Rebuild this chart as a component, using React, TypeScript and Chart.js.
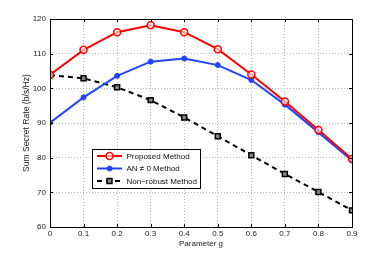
import React, { useEffect, useRef } from "react";
import { Chart, registerables } from "chart.js";

Chart.register(...registerables);

const gValues = [0, 0.1, 0.2, 0.3, 0.4, 0.5, 0.6, 0.7, 0.8, 0.9];
const proposed = [103.9, 111.1, 116.2, 118.2, 116.2, 111.3, 104.0, 96.2, 88.0, 79.6];
const anNonZero = [90.1, 97.4, 103.6, 107.7, 108.6, 106.7, 102.4, 95.3, 87.3, 79.2];
const nonRobust = [103.8, 102.9, 100.3, 96.6, 91.6, 86.2, 80.7, 75.3, 70.1, 64.8];
const seriesLabels = ["Proposed Method", "AN \u2260 0 Method", "Non\u2212robust Method"];
const xTitle = "Parameter g";
const yTitle = "Sum Secret Rate (b/s/Hz)";

const FONT = "'Liberation Sans', Arial, Helvetica, sans-serif";

const framePlugin = {
  id: "frameAndLegend",
  afterDatasetsDraw(chart: any) {
    const { ctx, chartArea: a, scales } = chart;
    ctx.save();
    ctx.strokeStyle = "#000";
    ctx.lineWidth = 1;
    ctx.setLineDash([]);
    ctx.strokeRect(Math.round(a.left) + 0.5, Math.round(a.top) + 0.5, Math.round(a.right - a.left), Math.round(a.bottom - a.top));
    const tl = 3;
    ctx.beginPath();
    scales.x.ticks.forEach((t: any) => {
      const px = Math.round(scales.x.getPixelForValue(t.value)) + 0.5;
      ctx.moveTo(px, a.bottom);
      ctx.lineTo(px, a.bottom - tl);
      ctx.moveTo(px, a.top);
      ctx.lineTo(px, a.top + tl);
    });
    scales.y.ticks.forEach((t: any) => {
      const py = Math.round(scales.y.getPixelForValue(t.value)) + 0.5;
      ctx.moveTo(a.left, py);
      ctx.lineTo(a.left + tl, py);
      ctx.moveTo(a.right, py);
      ctx.lineTo(a.right - tl, py);
    });
    ctx.stroke();
    ctx.restore();
  },
  afterDraw(chart: any) {
    const { ctx, chartArea: a } = chart;
    const bx = a.left + 42.5;
    const by = a.top + 130.5;
    const bw = 108;
    const bh = 39;
    ctx.save();
    ctx.fillStyle = "#fff";
    ctx.fillRect(bx, by, bw, bh);
    ctx.strokeStyle = "#000";
    ctx.lineWidth = 1;
    ctx.strokeRect(bx, by, bw, bh);
    chart.data.datasets.forEach((ds: any, i: number) => {
      const cy = by + 6.5 + i * 12.5;
      const x1 = bx + 4.5;
      const x2 = bx + 29.5;
      ctx.save();
      ctx.strokeStyle = ds.borderColor;
      ctx.lineWidth = ds.borderWidth;
      ctx.setLineDash(ds.borderDash || []);
      ctx.beginPath();
      ctx.moveTo(x1, cy);
      ctx.lineTo(x2, cy);
      ctx.stroke();
      ctx.setLineDash([]);
      const mx = (x1 + x2) / 2;
      const r = ds.pointRadius;
      ctx.lineWidth = ds.pointBorderWidth;
      ctx.strokeStyle = ds.pointBorderColor;
      ctx.fillStyle = ds.pointBackgroundColor;
      ctx.beginPath();
      if (ds.pointStyle === "rect") {
        ctx.rect(mx - r * 0.707, cy - r * 0.707, r * 1.414, r * 1.414);
      } else {
        ctx.arc(mx, cy, r, 0, Math.PI * 2);
      }
      ctx.fill();
      ctx.stroke();
      ctx.restore();
      ctx.fillStyle = "#111";
      ctx.font = `8px ${FONT}`;
      ctx.textBaseline = "middle";
      ctx.textAlign = "left";
      ctx.fillText(ds.label, bx + 34, cy + 0.5);
    });
    ctx.restore();
  },
};

export default function App() {
  const ref = useRef<HTMLCanvasElement>(null);
  useEffect(() => {
    document.body.style.margin = "0";
    const toPts = (arr: number[]) => gValues.map((g, i) => ({ x: g, y: arr[i] }));
    const chart = new Chart(ref.current!, {
      type: "line",
      data: {
        datasets: [
          {
            label: seriesLabels[0],
            data: toPts(proposed),
            borderColor: "#ff0000",
            borderWidth: 2,
            pointStyle: "circle",
            pointRadius: 3.5,
            pointBorderWidth: 1.5,
            pointBorderColor: "#ff0000",
            pointBackgroundColor: "rgba(255,255,255,0.6)",
          },
          {
            label: seriesLabels[1],
            data: toPts(anNonZero),
            borderColor: "#2244ff",
            borderWidth: 2,
            pointStyle: "circle",
            pointRadius: 2.5,
            pointBorderWidth: 1,
            pointBorderColor: "#2244ff",
            pointBackgroundColor: "#2244ff",
          },
          {
            label: seriesLabels[2],
            data: toPts(nonRobust),
            borderColor: "#000000",
            borderWidth: 2,
            borderDash: [5, 4],
            pointStyle: "rect",
            pointRadius: 3.5,
            pointBorderWidth: 1.5,
            pointBorderColor: "#000000",
            pointBackgroundColor: "#888888",
          },
        ] as any,
      },
      options: {
        animation: false,
        responsive: false,
        maintainAspectRatio: false,
        layout: { padding: { left: 0, right: 37, top: 19, bottom: 0 } },
        plugins: { legend: { display: false }, tooltip: { enabled: false } },
        elements: { line: { tension: 0 } },
        scales: {
          x: {
            type: "linear",
            min: 0,
            max: 0.9,
            ticks: {
              stepSize: 0.1,
              padding: 2,
              color: "#222",
              font: { family: FONT, size: 8 },
              callback: (v: any) => String(Math.round(Number(v) * 10) / 10),
            },
            grid: { color: "#b8b8b8", lineWidth: 1, drawTicks: false },
            border: { display: false, dash: [1, 2] },
            title: {
              display: true,
              text: xTitle,
              color: "#222",
              font: { family: FONT, size: 8 },
              padding: { top: 0, bottom: 6 },
            },
            afterFit: (s: any) => {
              s.height = 28;
            },
          },
          y: {
            type: "linear",
            min: 60,
            max: 120,
            ticks: {
              stepSize: 10,
              padding: 4,
              color: "#222",
              font: { family: FONT, size: 8 },
            },
            grid: { color: "#b8b8b8", lineWidth: 1, drawTicks: false },
            border: { display: false, dash: [1, 2] },
            title: {
              display: true,
              text: yTitle,
              color: "#222",
              font: { family: FONT, size: 8.6 },
              padding: { top: 21, bottom: 0 },
            },
            afterFit: (s: any) => {
              s.width = 50;
            },
          },
        },
      } as any,
      plugins: [framePlugin],
    });
    return () => chart.destroy();
  }, []);
  return (
    <div style={{ width: 389, height: 255, background: "#fff" }}>
      <canvas ref={ref} width={389} height={255} style={{ display: "block" }} />
    </div>
  );
}
